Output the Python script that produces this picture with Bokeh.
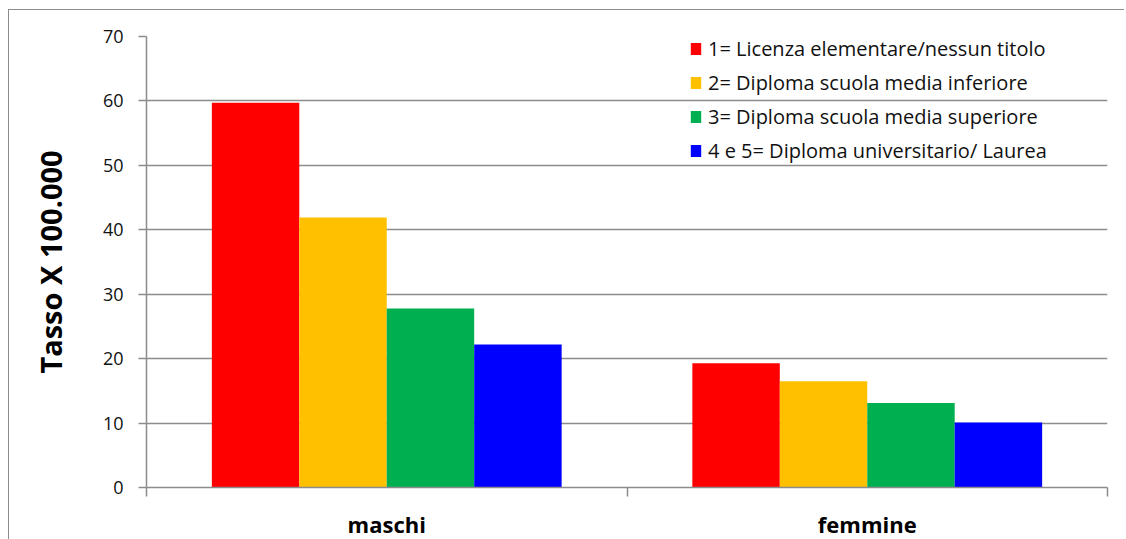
from bokeh.plotting import figure
from bokeh.models import FixedTicker, Legend, LegendItem, Range1d
from bokeh.embed import file_html
from bokeh.resources import INLINE

# ---- data ----
categories = ["maschi", "femmine"]
series = [
    "1= Licenza elementare/nessun titolo",
    "2= Diploma scuola media inferiore",
    "3= Diploma scuola media superiore",
    "4 e 5= Diploma universitario/ Laurea",
]
licenza = [59.7, 19.3]
media_inferiore = [41.9, 16.5]
media_superiore = [27.8, 13.1]
laurea = [22.2, 10.1]
y_ticks = [0, 10, 20, 30, 40, 50, 60, 70]
y_label = "Tasso X 100.000"

values = [licenza, media_inferiore, media_superiore, laurea]
colors = ["#FF0000", "#FFC000", "#00B050", "#0000FF"]

FONT = "Open Sans"
GRAY = "#8c8c8c"

p = figure(
    frame_width=961, frame_height=451,
    min_border_left=137, min_border_right=17, min_border_top=26, min_border_bottom=50,
    x_range=Range1d(0, len(categories)), y_range=Range1d(0, 70),
    output_backend="svg", toolbar_location=None,
)
p.styles = {
    "border-left": "1px solid #8c8c8c",
    "border-top": "1px solid #8c8c8c",
    "margin-top": "9px",
    "margin-left": "8px",
}
p.outline_line_color = None
p.background_fill_color = "white"
p.border_fill_color = "white"

bar_w = 0.182
renderers = []
n = len(series)
for j, (vals, col) in enumerate(zip(values, colors)):
    xs = [i + 0.5 + (j - (n - 1) / 2) * bar_w for i in range(len(categories))]
    r = p.vbar(x=xs, top=vals, width=bar_w, fill_color=col, line_color=None)
    renderers.append(r)

# y axis
p.yaxis.ticker = FixedTicker(ticks=y_ticks)
p.yaxis.axis_line_color = GRAY
p.yaxis.axis_line_width = 1.5
p.yaxis.major_tick_line_color = GRAY
p.yaxis.major_tick_line_width = 1.5
p.yaxis.major_tick_out = 8
p.yaxis.major_tick_in = 0
p.yaxis.minor_tick_line_color = None
p.yaxis.major_label_text_font = FONT
p.yaxis.major_label_text_font_size = "18px"
p.yaxis.major_label_text_color = "#111111"
p.yaxis.major_label_standoff = 15
p.yaxis.axis_label = y_label
p.yaxis.axis_label_text_font = FONT
p.yaxis.axis_label_text_font_style = "bold"
p.yaxis.axis_label_text_font_size = "29px"
p.yaxis.axis_label_text_color = "#000000"
p.yaxis.axis_label_standoff = 30

p.ygrid.ticker = FixedTicker(ticks=y_ticks)
p.ygrid.grid_line_color = GRAY
p.ygrid.grid_line_width = 1.5
p.xgrid.grid_line_color = None

# x axis: labels at category centres, ticks at category boundaries
p.xaxis.ticker = FixedTicker(
    ticks=[i + 0.5 for i in range(len(categories))],
    minor_ticks=list(range(len(categories) + 1)),
)
p.xaxis.major_label_overrides = {i + 0.5: c for i, c in enumerate(categories)}
p.xaxis.axis_line_color = GRAY
p.xaxis.axis_line_width = 1.5
p.xaxis.major_tick_line_color = None
p.xaxis.major_tick_out = 0
p.xaxis.major_tick_in = 0
p.xaxis.minor_tick_line_color = GRAY
p.xaxis.minor_tick_line_width = 1.5
p.xaxis.minor_tick_out = 9
p.xaxis.minor_tick_in = 0
p.xaxis.major_label_text_font = FONT
p.xaxis.major_label_text_font_style = "bold"
p.xaxis.major_label_text_font_size = "22px"
p.xaxis.major_label_text_color = "#000000"
p.xaxis.major_label_standoff = 12

legend = Legend(
    items=[LegendItem(label=s, renderers=[r]) for s, r in zip(series, renderers)],
    location=(543, 323),
    padding=0, margin=0, spacing=7,
    label_height=27, glyph_height=15, glyph_width=13, label_standoff=6,
    label_text_font=FONT, label_text_font_size="20px", label_text_color="#111111",
    border_line_color=None, background_fill_alpha=0,
)
p.add_layout(legend)

open("out.html", "w").write(file_html(p, INLINE))
